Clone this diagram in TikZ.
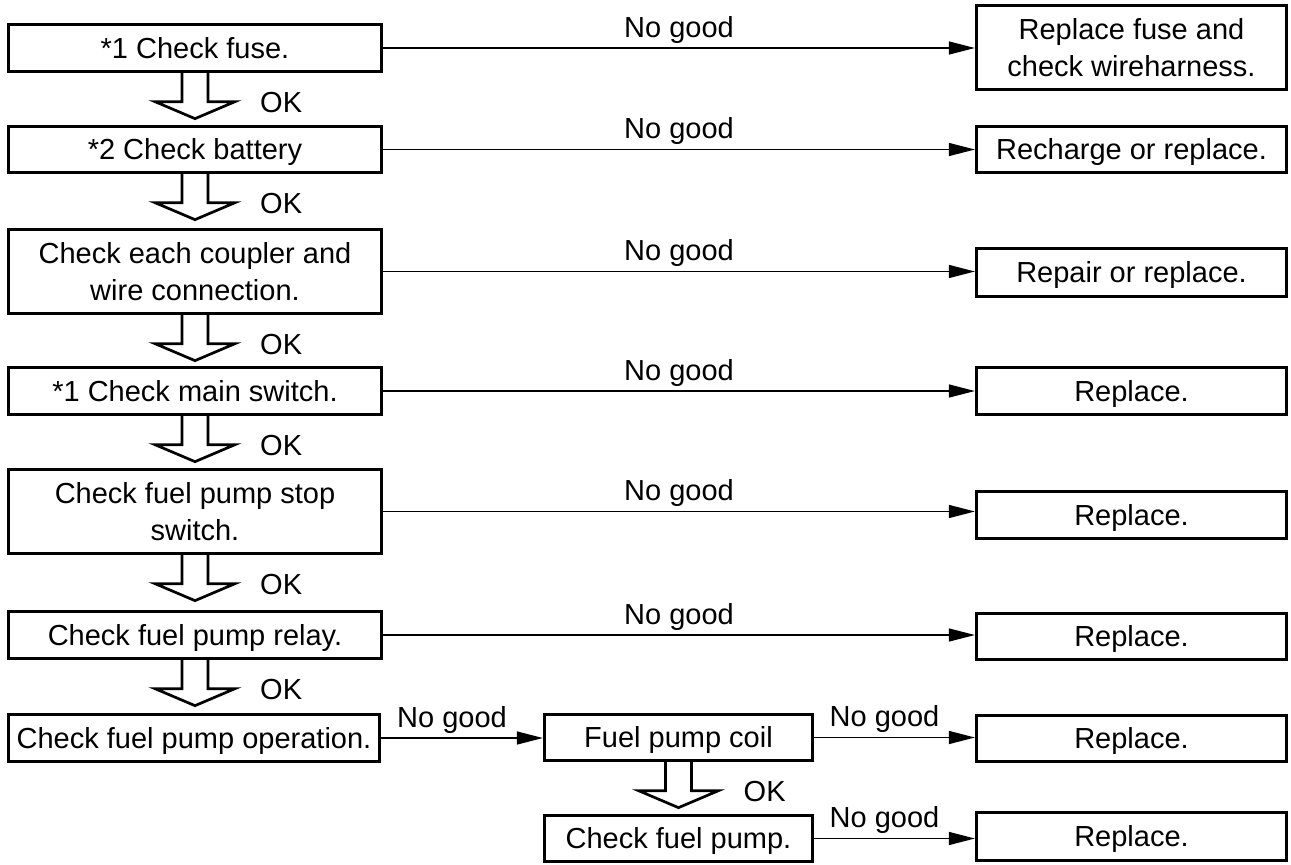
\documentclass[tikz,border=0pt]{standalone}
\usepackage{fontspec}
\setmainfont{Liberation Sans}
\usetikzlibrary{arrows.meta}
\newcommand\okarr[2]{%
  \draw[blk] ([xshift=-13pt]#1.south) -- ++(0,28.5) -- ++(-27,0) -- ++(40,17) -- ++(40,-17) -- ++(-27,0) -- ++(0,-28.5);
  \node[ok] (#2) at ([xshift=65pt,yshift=-29pt]#1.south) {OK};}
\begin{document}
\begin{tikzpicture}[x=1pt,y=-1pt,
  box/.style={draw, line width=3.3pt, rectangle, inner sep=0pt, align=center, font=\fontsize{29}{36.5}\selectfont},
  one/.style={text height=20.8pt, text depth=0pt},
  lbox/.style={box, minimum width=373pt},
  rbox/.style={box, minimum width=310pt},
  mbox/.style={box, minimum width=268pt},
  conn/.style={line width=1.4pt, -{Triangle[length=26pt,width=13pt]}},
  ng/.style={anchor=base, inner sep=0pt, yshift=11pt, font=\fontsize{29}{35}\selectfont},
  ok/.style={anchor=west, inner sep=0pt, font=\fontsize{29}{35}\selectfont},
  blk/.style={draw, line width=2.7pt, line join=miter}]
\useasboundingbox (0,0) rectangle (1291,865);
% left column
\node[lbox, one, minimum height=47pt] (B1) at (195,48) {*1 Check fuse.};
\node[lbox, one, minimum height=46pt] (B2) at (195,149.5) {*2 Check battery};
\node[lbox, minimum height=84pt] (B3) at (195,271.5) {Check each coupler and\\wire connection.};
\node[lbox, one, minimum height=47pt] (B4) at (195,391) {*1 Check main switch.};
\node[lbox, minimum height=84pt] (B5) at (195,511.5) {Check fuel pump stop\\switch.};
\node[lbox, one, minimum height=47pt] (B6) at (195,635) {Check fuel pump relay.};
\node[box, one, minimum width=371pt, minimum height=47pt] (B7) at (194,738) {Check fuel pump operation.};
% middle column
\node[mbox, one, minimum height=46pt] (M1) at (678.5,737.5) {Fuel pump coil};
\node[mbox, one, minimum height=46pt] (M2) at (678.5,838.5) {Check fuel pump.};
% right column
\node[rbox, minimum height=84pt] (R1) at (1131.5,47.5) {Replace fuse and\\check wireharness.};
\node[rbox, one, minimum height=46pt] (R2) at (1131.5,149.5) {Recharge or replace.};
\node[rbox, one, minimum height=48pt] (R3) at (1131.5,272.5) {Repair or replace.};
\node[rbox, one, minimum height=47pt] (R4) at (1131.5,391) {Replace.};
\node[rbox, one, minimum height=47pt] (R5) at (1131.5,515) {Replace.};
\node[rbox, one, minimum height=46pt] (R6) at (1131.5,636.5) {Replace.};
\node[rbox, one, minimum height=46pt] (R7) at (1131.5,738.5) {Replace.};
\node[rbox, one, minimum height=48pt] (R8) at (1131.5,836.5) {Replace.};
% OK block arrows
\okarr{B1}{ok1}
\okarr{B2}{ok2}
\okarr{B3}{ok3}
\okarr{B4}{ok4}
\okarr{B5}{ok5}
\okarr{B6}{ok6}
\okarr{M1}{ok7}
% No good connectors
\draw[conn] (B1.east) -- node[ng]{No good} (B1.east -| R1.west);
\draw[conn] (B2.east) -- node[ng]{No good} (B2.east -| R2.west);
\draw[conn] (B3.east) -- node[ng]{No good} (B3.east -| R3.west);
\draw[conn] (B4.east) -- node[ng]{No good} (B4.east -| R4.west);
\draw[conn] (B5.east) -- node[ng]{No good} (B5.east -| R5.west);
\draw[conn] (B6.east) -- node[ng]{No good} (B6.east -| R6.west);
\draw[conn] (B7.east) -- node[ng, xshift=-10pt]{No good} (B7.east -| M1.west);
\draw[conn] (M1.east) -- node[ng, xshift=-10pt]{No good} (M1.east -| R7.west);
\draw[conn] (M2.east) -- node[ng, xshift=-10pt]{No good} (M2.east -| R8.west);
\end{tikzpicture}
\end{document}
